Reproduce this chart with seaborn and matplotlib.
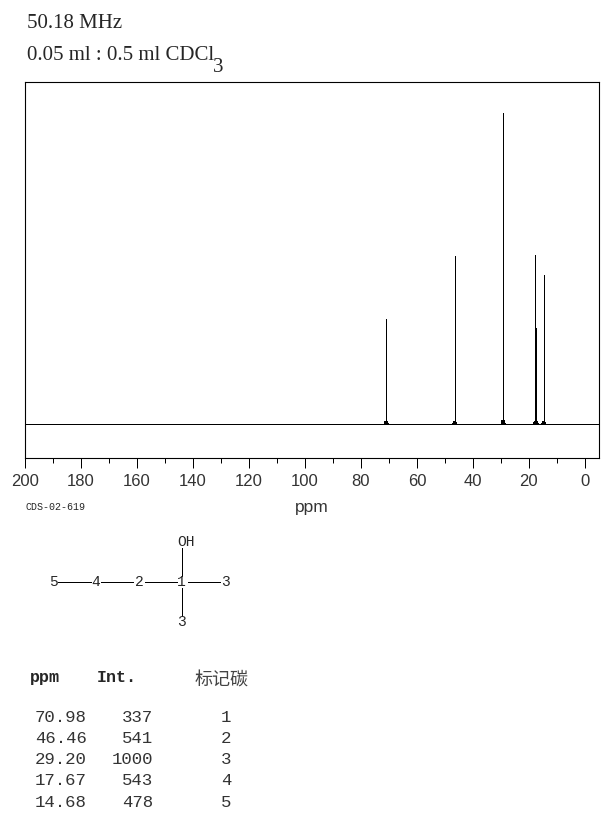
import pandas as pd
import seaborn as sns
import matplotlib.pyplot as plt

ppm_labels = ['70.98', '46.46', '29.20', '17.67', '14.68']
int_labels = ['337', '541', '1000', '543', '478']
carbon_labels = ['1', '2', '3', '4', '5']

peak_ppm = [70.98, 46.46, 29.20, 17.67, 17.40, 14.68]
peak_int = [337, 541, 1000, 543, 310, 478]
foot_height = [6, 6, 9, 6, 6, 5]

major_ticks = [200, 180, 160, 140, 120, 100, 80, 60, 40, 20, 0]
minor_ticks = [190, 170, 150, 130, 110, 90, 70, 50, 30, 10]

atom_labels = ['5', '4', '2', '1', '3', '3']
atom_x = [53, 96, 139, 181, 225, 181]
atom_y = [582, 582, 582, 582, 582, 622]

bond_x = [(58, 91), (101, 133), (145, 177), (188, 220), (181.5, 181.5), (181.5, 181.5)]
bond_y = [(582, 582), (582, 582), (582, 582), (582, 582), (548, 576), (588, 616)]

sns.set_style('white')
plt.rcParams['font.family'] = ['Liberation Sans', 'DejaVu Sans']

# stems and the tiny feet at their bottom are separate line pieces,
# a stem on its own gets snapped to one pixel
rows = []
for i, (p, h, f) in enumerate(zip(peak_ppm, peak_int, foot_height)):
    rows.append({'piece': f'stem{i}', 'ppm': p, 'intensity': 0})
    rows.append({'piece': f'stem{i}', 'ppm': p, 'intensity': h})
    rows.append({'piece': f'foot{i}', 'ppm': p + 0.5, 'intensity': 0})
    rows.append({'piece': f'foot{i}', 'ppm': p + 0.25, 'intensity': f})
    rows.append({'piece': f'foot{i}', 'ppm': p - 0.25, 'intensity': f})
    rows.append({'piece': f'foot{i}', 'ppm': p - 0.5, 'intensity': 0})
df = pd.DataFrame(rows)

W, H = 609, 822
fig = plt.figure(figsize=(W / 100, H / 100), dpi=100)
ax = fig.add_axes([25.0 / W, 1 - 458.5 / H, 574 / W, 376 / H])

sns.lineplot(data=df, x='ppm', y='intensity', units='piece', estimator=None, sort=False,
             color='black', lw=0.72, antialiased=False, ax=ax, legend=False)
ax.axhline(0, color='black', lw=0.72, antialiased=False)

ax.set_xlim(200, -5.05)
ax.set_ylim(-111, 1098)
ax.set_xticks(major_ticks)
ax.set_xticks(minor_ticks, minor=True)
ax.set_yticks([])
ax.set_xlabel('')
ax.set_ylabel('')
ax.tick_params(axis='x', which='major', length=7.2, width=0.72, color='black', bottom=True, pad=4)
ax.tick_params(axis='x', which='minor', length=3.6, width=0.72, color='black', bottom=True)
for lab in ax.get_xticklabels():
    lab.set_fontsize(12)
    lab.set_color('#333333')
for s in ax.spines.values():
    s.set_color('black')
    s.set_linewidth(0.8)
    s.set_visible(True)

# overlay in pixel coordinates for the text around the chart and the structure
ov = fig.add_axes([0, 0, 1, 1], facecolor='none')
ov.set_xlim(0, W)
ov.set_ylim(H, 0)
ov.axis('off')

serif = 'Liberation Serif'
mono = 'Liberation Mono'
ov.text(27, 23, '50.18 MHz', family=serif, fontsize=15, va='center')
ov.text(27, 56, '0.05 ml : 0.5 ml CDCl', family=serif, fontsize=15, va='center')
ov.text(218, 68, '3', family=serif, fontsize=15, ha='center', va='center')

ov.text(312, 507, 'ppm', fontsize=12.5, ha='center', va='center', color='#333333')
ov.text(25, 507, 'CDS-02-619', family=mono, fontsize=7.2, va='center')

for xs, ys in zip(bond_x, bond_y):
    ov.plot(xs, ys, color='black', lw=0.72, antialiased=False)
for a, x, y in zip(atom_labels, atom_x, atom_y):
    ov.text(x, y, a, family=mono, fontsize=10.5, ha='center', va='center')
ov.text(186, 542, 'OH', family=mono, fontsize=10.5, ha='center', va='center')

ov.text(30, 677, 'ppm', family=mono, fontsize=12, weight='bold', va='center')
ov.text(97, 677, 'Int.', family=mono, fontsize=12, weight='bold', va='center')
ov.text(222, 681, '标记碳', family=['Noto Sans CJK SC', 'DejaVu Sans'], fontsize=13,
        ha='center', va='center', color='#444444')

row_y = [717, 738, 759, 780, 802]
for p, n, c, y in zip(ppm_labels, int_labels, carbon_labels, row_y):
    ov.text(87, y, p, family=mono, fontsize=12.5, ha='right', va='center', color='#333333')
    ov.text(153, y, n, family=mono, fontsize=12.5, ha='right', va='center', color='#333333')
    ov.text(226, y, c, family=mono, fontsize=12.5, ha='center', va='center', color='#333333')

fig.savefig('out.png', dpi=100)
